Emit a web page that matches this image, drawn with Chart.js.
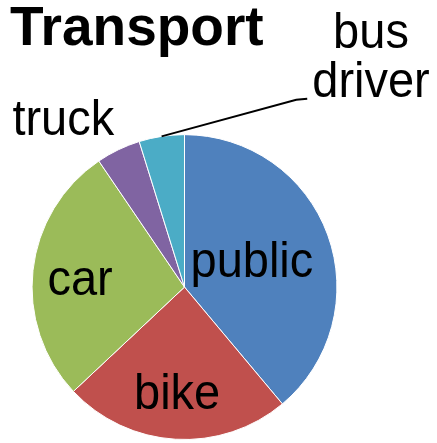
<!DOCTYPE html>
<html><head><meta charset="utf-8">
<script src="https://cdn.jsdelivr.net/npm/chart.js@4.4.1/dist/chart.umd.min.js"></script>
<style>html,body{margin:0;padding:0;background:#fff;overflow:hidden}</style>
</head><body>
<canvas id="c" width="437" height="443"></canvas>
<script>
// ---- data ----
const titleText = 'Transport';
const categories = ['public', 'bike', 'car', 'truck', 'bus driver'];
const shares = [38.9, 24.1, 27.5, 4.7, 4.8];

// ---- style ----
const sliceColors = ['#4F81BD', '#C0504D', '#9BBB59', '#8064A2', '#4BACC6'];
const LABEL_SIZE = 47;
const SY = 1.07;
const LINE_H = 49;
const labelStyle = [
  {mode: 'inside', r: 0.475, da: -1.45},
  {mode: 'inside', r: 0.694, da: 0.57},
  {mode: 'inside', r: 0.687, da: -1.7},
  {mode: 'outside', dx: -55, dy: -15},
  {mode: 'outside', dx: 209.4, dy: -39.7, leader: true}
];

function drawText(ctx, t, x, y) {
  ctx.save(); ctx.translate(x, y); ctx.scale(1, SY); ctx.fillText(t, 0, 0); ctx.restore();
}

const labelPlugin = {
  id: 'sliceLabels',
  afterDatasetsDraw(chart) {
    const ctx = chart.ctx;
    const meta = chart.getDatasetMeta(0);
    ctx.save();
    ctx.fillStyle = '#000';
    ctx.font = LABEL_SIZE + 'px "Liberation Sans", Arial, sans-serif';
    ctx.textAlign = 'center';
    ctx.textBaseline = 'alphabetic';
    meta.data.forEach((arc, i) => {
      const p = arc.getProps(['x', 'y', 'startAngle', 'endAngle', 'outerRadius'], true);
      const st = labelStyle[i];
      const lines = chart.data.labels[i].split(' ');
      const mid = (p.startAngle + p.endAngle) / 2;
      if (st.mode === 'inside') {
        const a = mid + st.da * Math.PI / 180;
        const r = p.outerRadius * st.r;
        drawText(ctx, chart.data.labels[i], p.x + Math.cos(a) * r, p.y + Math.sin(a) * r + 16);
      } else {
        const ax = p.x + Math.cos(mid) * p.outerRadius;
        const ay = p.y + Math.sin(mid) * p.outerRadius;
        const lx = ax + st.dx, ly = ay + st.dy;
        lines.forEach((t, k) => drawText(ctx, t, lx, ly - (lines.length - 1 - k) * LINE_H));
        if (st.leader) {
          const w = ctx.measureText(lines[lines.length - 1]).width;
          const ex = lx - w / 2 - 5, ey = ly + 2;
          ctx.beginPath();
          ctx.moveTo(ax, ay);
          ctx.lineTo(ex - 11, ey + 1);
          ctx.lineTo(ex, ey);
          ctx.lineWidth = 2;
          ctx.strokeStyle = '#000';
          ctx.stroke();
        }
      }
    });
    ctx.restore();
  }
};

new Chart(document.getElementById('c'), {
  type: 'pie',
  data: {
    labels: categories,
    datasets: [{
      data: shares,
      backgroundColor: sliceColors,
      borderColor: '#ffffff',
      borderWidth: 1,
      hoverOffset: 0
    }]
  },
  options: {
    responsive: false,
    animation: false,
    events: [],
    layout: {padding: {left: 10, right: 78, top: 0, bottom: 3}},
    plugins: {
      legend: {display: false},
      tooltip: {enabled: false},
      title: {
        display: true,
        text: titleText,
        align: 'start',
        color: '#000',
        font: {family: '"Liberation Sans", Arial, sans-serif', size: 55, weight: 'bold', lineHeight: 1.07},
        padding: {top: 0, bottom: 75.3}
      }
    }
  },
  plugins: [labelPlugin]
});
</script>
</body></html>
